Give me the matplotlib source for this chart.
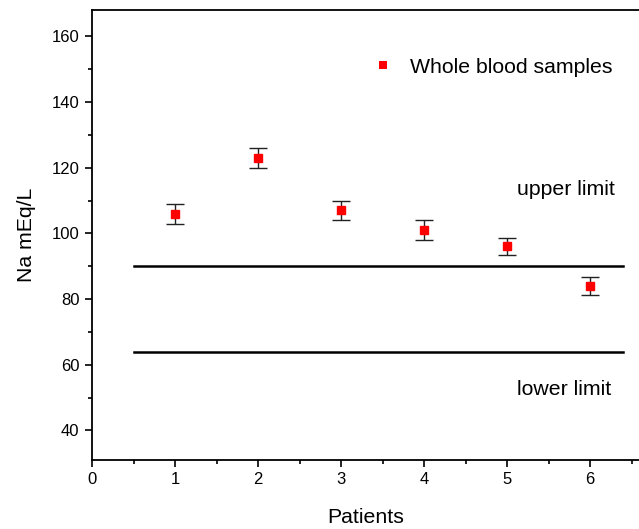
import matplotlib
matplotlib.use("Agg")
import matplotlib.pyplot as plt
from matplotlib.ticker import MultipleLocator
from matplotlib.lines import Line2D

plt.rcParams['font.family'] = ['Liberation Sans', 'DejaVu Sans']

patients = [1, 2, 3, 4, 5, 6]
sodium = [106, 123, 107, 101, 96, 84]
errors = [3, 3, 3, 3, 2.5, 2.7]
upper_limit = 90
lower_limit = 64
limit_x = [0.5, 6.4]
series_label = 'Whole blood samples'

fig = plt.figure(figsize=(6.39, 5.29), dpi=100)
ax = fig.add_axes([92/639, 1 - 460/529, (640-92)/639, (460-10)/529])

ax.errorbar(patients, sodium, yerr=errors, fmt='s', color='red', markersize=6.3,
            markeredgecolor='red', ecolor='#222222', elinewidth=1, capsize=6.5,
            capthick=1, zorder=3)
ax.plot(limit_x, [upper_limit, upper_limit], color='black', lw=1.8)
ax.plot(limit_x, [lower_limit, lower_limit], color='black', lw=1.8)

ax.text(6.30, 113.3, 'upper limit', ha='right', va='center', fontsize=15.3)
ax.text(6.25, 52.4, 'lower limit', ha='right', va='center', fontsize=15.3)

ax.set_xlim(0, 6.6)
ax.set_ylim(31, 168)
ax.xaxis.set_major_locator(MultipleLocator(1))
ax.xaxis.set_minor_locator(MultipleLocator(0.5))
ax.yaxis.set_minor_locator(MultipleLocator(10))
ax.set_yticks(range(40, 161, 20))
ax.tick_params(which='both', direction='out', width=1.2, labelsize=12, pad=4)
ax.tick_params(which='major', length=5)
ax.tick_params(which='minor', length=3)
for s in ['left', 'bottom', 'top']:
    ax.spines[s].set_linewidth(1.3)
ax.spines['right'].set_visible(False)

ax.set_xlabel('Patients', fontsize=15.3, labelpad=15)
ax.set_ylabel('Na mEq/L', fontsize=15.3, labelpad=11)

handle = Line2D([], [], linestyle='none', marker='s', color='red',
                markersize=6.3, markeredgewidth=0)
ax.legend(handles=[handle], labels=[series_label], loc='upper left',
          bbox_to_anchor=(0.485, 0.913), frameon=False, fontsize=15.3,
          handletextpad=0.45, handlelength=1.6, borderaxespad=0)

fig.savefig('out.png', dpi=100)
